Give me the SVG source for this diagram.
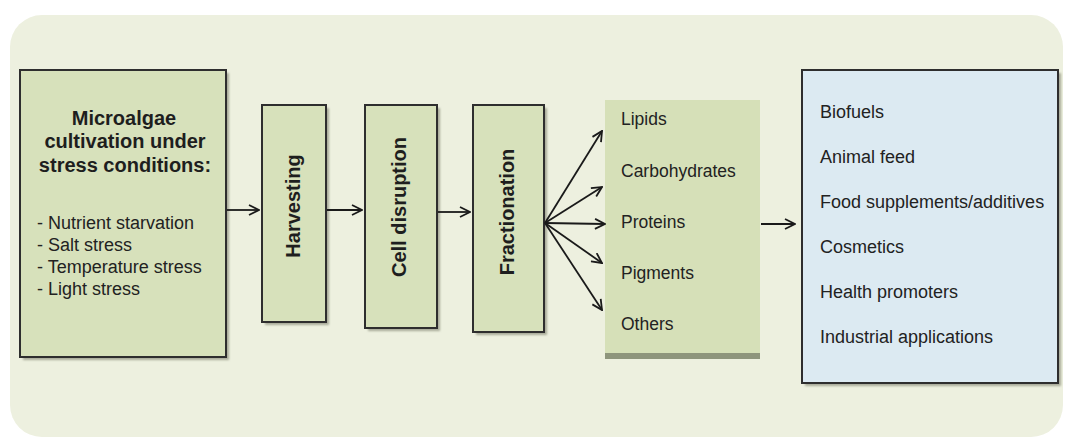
<svg xmlns="http://www.w3.org/2000/svg" width="1069" height="438" viewBox="0 0 1069 438">
<defs>
<style>
.box{fill:#d7e1bb;stroke:#2e2e2e;stroke-width:2}
.shadow{fill:#6f735f;opacity:0.55}
.title{font-family:"Liberation Sans",Arial,sans-serif;font-weight:bold;font-size:20px;fill:#1e1e1e}
.lbl{font-family:"Liberation Sans",Arial,sans-serif;font-size:17.5px;fill:#222}
.lst{font-family:"Liberation Sans",Arial,sans-serif;font-size:18px;fill:#222}
.app{font-family:"Liberation Sans",Arial,sans-serif;font-size:18px;fill:#222}
.rot{font-family:"Liberation Sans",Arial,sans-serif;font-weight:bold;font-size:20px;fill:#1e1e1e;text-anchor:middle}
.conn{stroke:#1a1a1a;stroke-width:1.8;fill:none}
</style>
<marker id="arr" viewBox="0 0 12 12" refX="11" refY="6" markerWidth="12" markerHeight="12" markerUnits="userSpaceOnUse" orient="auto">
<path d="M1,1 L11,6 L1,11" fill="none" stroke="#1a1a1a" stroke-width="1.8"/>
</marker>
<filter id="blur" x="-10%" y="-10%" width="120%" height="120%"><feGaussianBlur stdDeviation="1.2"/></filter>
</defs>
<rect x="0" y="0" width="1069" height="438" fill="#ffffff"/>
<rect x="10" y="15" width="1053" height="422" rx="32" ry="32" fill="#edf0df"/>

<g id="cultivation">
<rect class="shadow" x="23" y="73" width="206" height="287" filter="url(#blur)"/>
<rect class="box" x="20" y="70" width="206" height="287"/>
<text class="title" x="124" y="125" text-anchor="middle">Microalgae</text>
<text class="title" x="125" y="148" text-anchor="middle">cultivation under</text>
<text class="title" x="125" y="172" text-anchor="middle">stress conditions:</text>
<text class="lst" x="37" y="229">- Nutrient starvation</text>
<text class="lst" x="37" y="251">- Salt stress</text>
<text class="lst" x="37" y="273">- Temperature stress</text>
<text class="lst" x="37" y="295">- Light stress</text>
</g>

<g id="harvesting">
<rect class="shadow" x="265" y="108" width="64" height="217" filter="url(#blur)"/>
<rect class="box" x="262" y="105" width="64" height="217"/>
<text class="rot" transform="translate(300,206) rotate(-90)">Harvesting</text>
</g>

<g id="cell-disruption">
<rect class="shadow" x="368" y="108" width="72" height="223" filter="url(#blur)"/>
<rect class="box" x="365" y="105" width="72" height="223"/>
<text class="rot" transform="translate(406,207) rotate(-90)">Cell disruption</text>
</g>

<g id="fractionation">
<rect class="shadow" x="476" y="108" width="71" height="227" filter="url(#blur)"/>
<rect class="box" x="473" y="105" width="71" height="227"/>
<text class="rot" transform="translate(514,212) rotate(-90)">Fractionation</text>
</g>

<g id="fractions">
<rect x="605" y="100" width="155" height="256" fill="#d6e0b8"/>
<rect x="605" y="353" width="155" height="6" fill="#8e957c"/>
<text class="lbl" x="621" y="125">Lipids</text>
<text class="lbl" x="621" y="177">Carbohydrates</text>
<text class="lbl" x="621" y="228">Proteins</text>
<text class="lbl" x="621" y="279">Pigments</text>
<text class="lbl" x="621" y="330">Others</text>
</g>

<g id="applications">
<rect class="shadow" x="805" y="73" width="256" height="313" filter="url(#blur)"/>
<rect x="802" y="70" width="256" height="313" fill="#dceaf2" stroke="#2e2e2e" stroke-width="2"/>
<text class="app" x="820" y="118">Biofuels</text>
<text class="app" x="820" y="163">Animal feed</text>
<text class="app" x="820" y="208">Food supplements/additives</text>
<text class="app" x="820" y="253">Cosmetics</text>
<text class="app" x="820" y="298">Health promoters</text>
<text class="app" x="820" y="343">Industrial applications</text>
</g>

<g id="connectors">
<line class="conn" x1="227" y1="210" x2="259" y2="210" marker-end="url(#arr)"/>
<line class="conn" x1="327" y1="210" x2="362" y2="210" marker-end="url(#arr)"/>
<line class="conn" x1="438" y1="212" x2="470" y2="212" marker-end="url(#arr)"/>
<line class="conn" x1="545" y1="223" x2="602" y2="131" marker-end="url(#arr)"/>
<line class="conn" x1="545" y1="223" x2="602" y2="187" marker-end="url(#arr)"/>
<line class="conn" x1="545" y1="223" x2="605" y2="224" marker-end="url(#arr)"/>
<line class="conn" x1="545" y1="223" x2="602" y2="263" marker-end="url(#arr)"/>
<line class="conn" x1="545" y1="223" x2="602" y2="310" marker-end="url(#arr)"/>
<line class="conn" x1="761" y1="224" x2="795" y2="224" marker-end="url(#arr)"/>
</g>
</svg>
